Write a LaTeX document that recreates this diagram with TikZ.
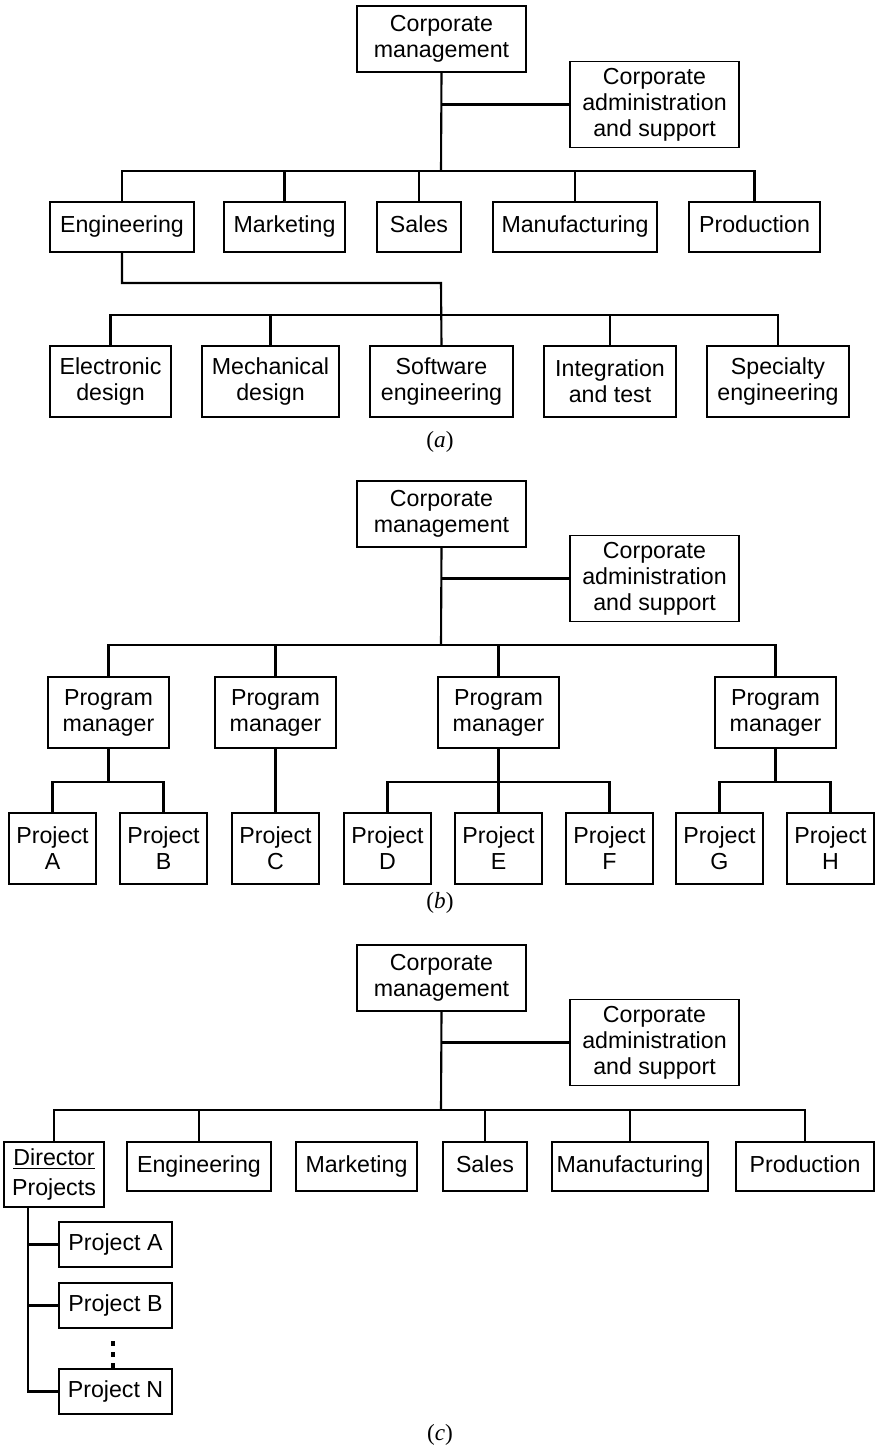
\documentclass[tikz,border=0pt]{standalone}
\usepackage{fontspec}
\setmainfont{Liberation Sans}
\newfontfamily\capfont{Liberation Serif}
\usepackage{tikz}
\tikzstyle{orgbox} = [rectangle, draw=black, line width=0.6pt, inner sep=0pt, align=center, font=\fontsize{13.2}{14.8}\selectfont]
\tikzstyle{head} = [orgbox, minimum width=3.38cm, minimum height=1.32cm]
\tikzstyle{staff} = [orgbox, minimum width=3.38cm, minimum height=1.72cm]
\tikzstyle{dept} = [orgbox, minimum height=1cm, text height=0.72em, text depth=0.06em]
\tikzstyle{subdept} = [orgbox, minimum height=1.42cm]
\tikzstyle{program} = [orgbox, minimum width=2.42cm, minimum height=1.42cm]
\tikzstyle{project} = [orgbox, minimum width=1.74cm, minimum height=1.42cm]
\tikzstyle{task} = [orgbox, minimum width=2.26cm, minimum height=0.9cm, text height=0.72em, text depth=0.06em]
\tikzstyle{link} = [line width=1.2pt]
\tikzstyle{figlabel} = [font=\fontsize{13.2}{14.8}\selectfont\capfont]

\begin{document}
\begin{tikzpicture}[x=0.02cm, y=-0.02cm]
        \useasboundingbox (0,0) rectangle (875,1449);

        % (a) functional organization
        \node (cmA) [head] at (441.5,39) {Corporate\\management};
        \node (caA) [staff] at (654.5,104.5) {Corporate\\administration\\and support};
        \node (engA) [dept, minimum width=2.88cm] at (122,227) {Engineering};
        \node (mktA) [dept, minimum width=2.42cm] at (284.5,227) {Marketing};
        \node (salA) [dept, minimum width=1.68cm] at (419,227) {Sales};
        \node (mfgA) [dept, minimum width=3.28cm] at (575,227) {Manufacturing};
        \node (prdA) [dept, minimum width=2.62cm] at (754.5,227) {Production};
        \node (eleA) [subdept, minimum width=2.42cm] at (110.5,381.5) {Electronic\\design};
        \node (mecA) [subdept, minimum width=2.74cm] at (270.5,381.5) {Mechanical\\design};
        \node (sofA) [subdept, minimum width=2.86cm] at (441.5,381.5) {Software\\engineering};
        \node (intA) [subdept, minimum width=2.64cm] at (610,381.5) {Integration\\and test};
        \node (spcA) [subdept, minimum width=2.84cm] at (778,381.5) {Specialty\\engineering};
        \node (capA) [figlabel] at (440,442) {(\textit{a})};

        \coordinate (busA) at (441,171);
        \coordinate (midA) at (441,283);
        \coordinate (busA2) at (441,315);
        \draw [link] (cmA.south) -- (busA);
        \draw [link] (cmA.south |- caA.west) -- (caA.west);
        \draw [link] (engA.north) |- (busA) -| (prdA.north);
        \draw [link] (mktA.north) -- (mktA.north |- busA);
        \draw [link] (salA.north) -- (salA.north |- busA);
        \draw [link] (mfgA.north) -- (mfgA.north |- busA);
        \draw [link] (engA.south) |- (midA) -- (sofA.north);
        \draw [link] (eleA.north) |- (busA2) -| (spcA.north);
        \draw [link] (mecA.north) -- (mecA.north |- busA2);
        \draw [link] (intA.north) -- (intA.north |- busA2);

        % (b) project organization
        \node (cmB) [head] at (441.5,514) {Corporate\\management};
        \node (caB) [staff] at (654.5,578.5) {Corporate\\administration\\and support};
        \node (pm1) [program] at (108.5,712.5) {Program\\manager};
        \node (pm2) [program] at (275.5,712.5) {Program\\manager};
        \node (pm3) [program] at (498.5,712.5) {Program\\manager};
        \node (pm4) [program] at (775.5,712.5) {Program\\manager};
        \node (prjA) [project] at (52.5,848.5) {Project\\A};
        \node (prjB) [project] at (163.5,848.5) {Project\\B};
        \node (prjC) [project] at (275.5,848.5) {Project\\C};
        \node (prjD) [project] at (387.5,848.5) {Project\\D};
        \node (prjE) [project] at (498.5,848.5) {Project\\E};
        \node (prjF) [project] at (609.5,848.5) {Project\\F};
        \node (prjG) [project] at (719.5,848.5) {Project\\G};
        \node (prjH) [project] at (830.5,848.5) {Project\\H};
        \node (capB) [figlabel] at (440,903) {(\textit{b})};

        \coordinate (busB) at (441,645);
        \coordinate (subB) at (108.5,782);
        \draw [link] (cmB.south) -- (busB);
        \draw [link] (cmB.south |- caB.west) -- (caB.west);
        \draw [link] (pm1.north) |- (busB) -| (pm4.north);
        \draw [link] (pm2.north) -- (pm2.north |- busB);
        \draw [link] (pm3.north) -- (pm3.north |- busB);
        \draw [link] (pm1.south) -- (subB);
        \draw [link] (prjA.north) |- (subB) -| (prjB.north);
        \draw [link] (pm2.south) -- (prjC.north);
        \draw [link] (pm3.south) -- (prjE.north);
        \draw [link] (prjD.north) |- (prjE.north |- subB) -| (prjF.north);
        \draw [link] (pm4.south) -- (pm4.south |- subB);
        \draw [link] (prjG.north) |- (pm4.south |- subB) -| (prjH.north);

        % (c) matrix organization
        \node (cmC) [head] at (441.5,978) {Corporate\\management};
        \node (caC) [staff] at (654.5,1042.5) {Corporate\\administration\\and support};
        \node (dirC) [orgbox, minimum width=2cm, minimum height=1.3cm] at (54,1174.5) {\underline{Director}\\[2pt]Projects};
        \node (engC) [dept, minimum width=2.88cm, minimum height=0.98cm] at (199,1166.5) {Engineering};
        \node (mktC) [dept, minimum width=2.42cm, minimum height=0.98cm] at (356.5,1166.5) {Marketing};
        \node (salC) [dept, minimum width=1.68cm, minimum height=0.98cm] at (485,1166.5) {Sales};
        \node (mfgC) [dept, minimum width=3.12cm, minimum height=0.98cm] at (630,1166.5) {Manufacturing};
        \node (prdC) [dept, minimum width=2.76cm, minimum height=0.98cm] at (805,1166.5) {Production};
        \node (prjAC) [task] at (115.5,1244.5) {Project A};
        \node (prjBC) [task] at (115.5,1305.5) {Project B};
        \node (prjNC) [task] at (115.5,1391.5) {Project N};
        \node (capC) [figlabel] at (440,1435) {(\textit{c})};

        \coordinate (busC) at (441,1110);
        \coordinate (stemC) at (28,1207);
        \draw [link] (cmC.south) -- (busC);
        \draw [link] (cmC.south |- caC.west) -- (caC.west);
        \draw [link] (dirC.north) |- (busC) -| (prdC.north);
        \draw [link] (engC.north) -- (engC.north |- busC);
        \draw [link] (salC.north) -- (salC.north |- busC);
        \draw [link] (mfgC.north) -- (mfgC.north |- busC);
        \draw [link] (stemC |- dirC.south) |- (prjNC.west);
        \draw [link] (stemC |- prjAC.west) -- (prjAC.west);
        \draw [link] (stemC |- prjBC.west) -- (prjBC.west);
        \fill (111,1341) rectangle (115,1346);
        \fill (111,1352) rectangle (115,1357);
        \fill (111,1363) rectangle (115,1368);
    \end{tikzpicture}
\end{document}
